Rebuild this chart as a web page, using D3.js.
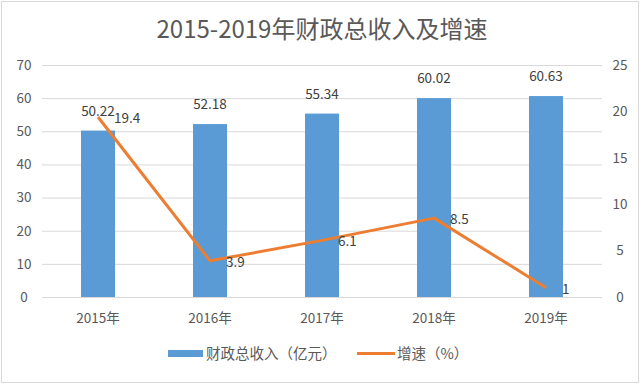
<!DOCTYPE html>
<html><head><meta charset="utf-8">
<script src="https://cdn.jsdelivr.net/npm/d3@7/dist/d3.min.js"></script>
<style>body{margin:0;background:#fff}svg{display:block}</style>
</head><body><svg id="c" width="640" height="385"></svg>
<script>
const categories = ["2015年","2016年","2017年","2018年","2019年"];
const revenue = [50.22, 52.18, 55.34, 60.02, 60.63];
const growth = [19.4, 3.9, 6.1, 8.5, 1];
const leftTicks = [0,10,20,30,40,50,60,70];
const rightTicks = [0,5,10,15,20,25];
const title = "2015-2019年财政总收入及增速";
const seriesNames = ["财政总收入（亿元）","增速（%）"];

const font = "'Noto Sans CJK SC','Microsoft YaHei',sans-serif";
const svg = d3.select("#c");
const W=640,H=385, L=42, R=602, T=65, B=297;
svg.append("rect").attr("x",1.5).attr("y",1.5).attr("width",W-3).attr("height",H-4)
  .attr("fill","#fff").attr("stroke","#d9d9d9");

const x = d3.scaleBand().domain(categories).range([L,R]);
const yL = d3.scaleLinear().domain([0,70]).range([B,T]);
const yR = d3.scaleLinear().domain([0,25]).range([B,T]);

svg.append("text").attr("x",322).attr("y",38).attr("text-anchor","middle")
  .attr("font-family",font).attr("font-size",24).attr("fill","#595959").text(title);

// grid
const g = svg.append("g");
g.selectAll("line.grid").data(leftTicks).join("line")
  .attr("x1",L).attr("x2",R).attr("y1",d=>yL(d)+0.5).attr("y2",d=>yL(d)+0.5)
  .attr("stroke","#d9d9d9").attr("stroke-width",1);

// left axis
const axL = svg.append("g").attr("transform",`translate(${L},0)`)
  .call(d3.axisLeft(yL).tickValues(leftTicks).tickSize(0).tickPadding(10));
axL.select(".domain").remove();
axL.selectAll("text").attr("font-family",font).attr("font-size",13.5).attr("fill","#595959")
  .attr("text-anchor","middle").attr("dx",-8);
// right axis
const axR = svg.append("g").attr("transform",`translate(${R},0)`)
  .call(d3.axisRight(yR).tickValues(rightTicks).tickSize(0).tickPadding(10));
axR.select(".domain").remove();
axR.selectAll("text").attr("font-family",font).attr("font-size",13.5).attr("fill","#595959")
  .attr("text-anchor","middle").attr("dx",8);
// bottom axis
const axB = svg.append("g").attr("transform",`translate(0,${B})`)
  .call(d3.axisBottom(x).tickSize(0).tickPadding(16));
axB.select(".domain").remove();
axB.selectAll("text").attr("font-family",font).attr("font-size",13.5).attr("fill","#595959");

// bars
const bw = 34;
svg.selectAll("rect.bar").data(revenue).join("rect").attr("class","bar")
  .attr("x",(d,i)=>x(categories[i])+x.bandwidth()/2-bw/2).attr("width",bw)
  .attr("y",d=>yL(d)).attr("height",d=>B-yL(d)).attr("fill","#5b9bd5");
svg.selectAll("text.bl").data(revenue).join("text").attr("class","bl")
  .attr("x",(d,i)=>x(categories[i])+x.bandwidth()/2).attr("y",d=>yL(d)-15)
  .attr("text-anchor","middle").attr("font-family",font).attr("font-size",13.5).attr("fill","#404040")
  .text(d=>d.toFixed(2));

// line
const line = d3.line().x((d,i)=>x(categories[i])+x.bandwidth()/2).y(d=>yR(d));
svg.append("path").datum(growth).attr("d",line).attr("fill","none")
  .attr("stroke","#ed7d31").attr("stroke-width",3).attr("stroke-linejoin","round");
svg.selectAll("text.ll").data(growth).join("text").attr("class","ll")
  .attr("x",(d,i)=>x(categories[i])+x.bandwidth()/2+16).attr("y",d=>yR(d)+6)
  .attr("font-family",font).attr("font-size",13.5).attr("fill","#404040")
  .text(d=>String(d));

// legend
const lg = svg.append("g");
lg.append("rect").attr("x",168).attr("y",350).attr("width",35).attr("height",7).attr("fill","#5b9bd5");
lg.append("text").attr("x",206).attr("y",359).attr("font-family",font).attr("font-size",14.5)
  .attr("fill","#595959").text(seriesNames[0]);
lg.append("line").attr("x1",357).attr("x2",395).attr("y1",353.5).attr("y2",353.5)
  .attr("stroke","#ed7d31").attr("stroke-width",3);
lg.append("text").attr("x",397).attr("y",359).attr("font-family",font).attr("font-size",14.5)
  .attr("fill","#595959").text(seriesNames[1]);
</script></body></html>
